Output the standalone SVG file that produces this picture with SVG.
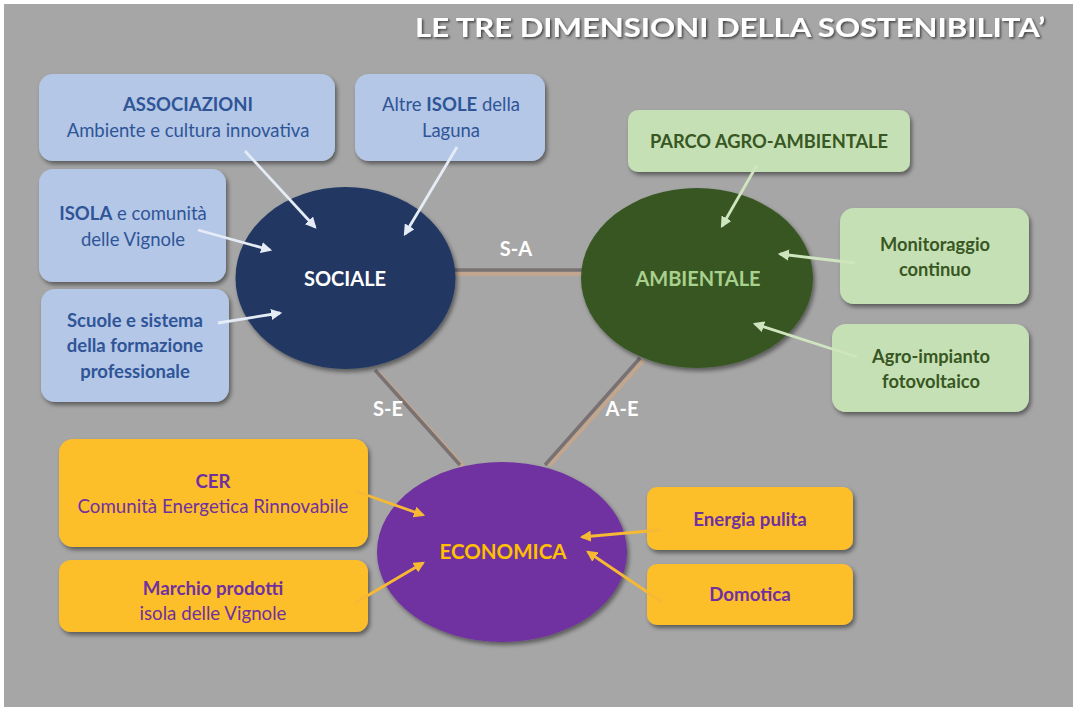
<svg xmlns="http://www.w3.org/2000/svg" width="1079" height="713" viewBox="0 0 1079 713">
<defs>
<filter id="sh" x="-20%" y="-20%" width="140%" height="140%">
<feDropShadow dx="2" dy="3" stdDeviation="2" flood-color="#000" flood-opacity="0.45"/>
</filter>
<filter id="tsh" x="-5%" y="-30%" width="110%" height="160%">
<feDropShadow dx="1.5" dy="1.5" stdDeviation="1" flood-color="#000" flood-opacity="0.6"/>
</filter>
<marker id="aw" viewBox="0 0 10 10" refX="8" refY="5" markerWidth="4" markerHeight="4" orient="auto" markerUnits="strokeWidth">
<path d="M0,0 L10,5 L0,10 z" fill="#e6ecf6"/>
</marker>
<marker id="ag" viewBox="0 0 10 10" refX="8" refY="5" markerWidth="4" markerHeight="4" orient="auto" markerUnits="strokeWidth">
<path d="M0,0 L10,5 L0,10 z" fill="#cfe5c0"/>
</marker>
<marker id="ao" viewBox="0 0 10 10" refX="8" refY="5" markerWidth="4" markerHeight="4" orient="auto" markerUnits="strokeWidth">
<path d="M0,0 L10,5 L0,10 z" fill="#f7b934"/>
</marker>
</defs>
<style>
text{font-family:Lato,"Open Sans","Liberation Sans",sans-serif;text-anchor:middle}
.bb{fill:#b4c7e7}
.gb{fill:#c5e0b4}
.ob{fill:#fcbf2c}
.bt{fill:#2f5597;font-size:18.5px}
.gt{fill:#385723;font-size:18.3px;font-weight:bold}
.ot{fill:#7030a0;font-size:18.7px}
.b{font-weight:bold}
.lbl{fill:#fff;font-size:20px;font-weight:bold}
.sw{stroke:#e6ecf6;stroke-width:2.8;fill:none;marker-end:url(#aw)}
.sg{stroke:#cfe5c0;stroke-width:2.8;fill:none;marker-end:url(#ag)}
.so{stroke:#f7b934;stroke-width:2.8;fill:none;marker-end:url(#ao)}
.lk{stroke:#7a7272;stroke-width:3.5}
.lks{stroke:#c4a68c;stroke-width:3.5}
</style>
<rect x="0" y="0" width="1079" height="713" fill="#ffffff"/>
<rect x="4" y="4" width="1069" height="703" fill="#a6a6a6"/>

<text x="730" y="37" font-size="27" font-weight="bold" fill="#ffffff" filter="url(#tsh)" textLength="630" lengthAdjust="spacingAndGlyphs">LE TRE DIMENSIONI DELLA SOSTENIBILITA’</text>

<g id="links">
<line class="lks" x1="455" y1="274" x2="582" y2="274"/>
<line class="lk" x1="455" y1="270" x2="582" y2="270"/>
<line class="lks" x1="378" y1="372" x2="463" y2="466"/>
<line class="lk" x1="375" y1="370" x2="460" y2="465"/>
<line class="lks" x1="644" y1="360" x2="549" y2="466"/>
<line class="lk" x1="640" y1="358" x2="545" y2="465"/>
</g>
<text class="lbl" x="516" y="256">S-A</text>
<text class="lbl" x="388" y="416">S-E</text>
<text class="lbl" x="622" y="416">A-E</text>

<g id="sociale">
<ellipse cx="345.5" cy="278" rx="110" ry="91" fill="#203864" filter="url(#sh)"/>
<text x="345" y="286" class="lbl">SOCIALE</text>
</g>
<g id="ambientale">
<ellipse cx="697" cy="278" rx="116" ry="90" fill="#385723" filter="url(#sh)"/>
<text x="698" y="286" font-size="20" font-weight="bold" fill="#a9d18e">AMBIENTALE</text>
</g>
<g id="economica">
<ellipse cx="502" cy="552" rx="125" ry="90" fill="#7030a0" filter="url(#sh)"/>
<text x="503" y="559" font-size="20.5" font-weight="bold" fill="#ffc000">ECONOMICA</text>
</g>

<g id="associazioni">
<rect class="bb" x="39" y="74" width="296" height="87" rx="14" filter="url(#sh)"/>
<text class="bt b" x="188" y="111">ASSOCIAZIONI</text>
<text class="bt" x="188" y="137">Ambiente e cultura innovativa</text>
</g>
<g id="altre-isole">
<rect class="bb" x="355" y="74" width="190" height="87" rx="14" filter="url(#sh)"/>
<text class="bt" x="451" y="111">Altre <tspan class="b">ISOLE</tspan> della</text>
<text class="bt" x="451" y="137">Laguna</text>
</g>
<g id="isola">
<rect class="bb" x="39" y="169" width="187" height="113" rx="14" filter="url(#sh)"/>
<text class="bt" x="133" y="220"><tspan class="b">ISOLA</tspan> e comunità</text>
<text class="bt" x="133" y="246">delle Vignole</text>
</g>
<g id="scuole">
<rect class="bb" x="41" y="289" width="188" height="113" rx="14" filter="url(#sh)"/>
<text class="bt b" x="135" y="327">Scuole e sistema</text>
<text class="bt b" x="135" y="352">della formazione</text>
<text class="bt b" x="135" y="378">professionale</text>
</g>

<g id="parco">
<rect class="gb" x="628" y="110" width="282" height="62" rx="10" filter="url(#sh)"/>
<text class="gt" x="769" y="148" font-size="17.8">PARCO AGRO-AMBIENTALE</text>
</g>
<g id="monitoraggio">
<rect class="gb" x="840" y="208" width="189" height="96" rx="14" filter="url(#sh)"/>
<text class="gt" x="935" y="251">Monitoraggio</text>
<text class="gt" x="935" y="276">continuo</text>
</g>
<g id="agro">
<rect class="gb" x="832" y="324" width="197" height="88" rx="14" filter="url(#sh)"/>
<text class="gt" x="931" y="363">Agro-impianto</text>
<text class="gt" x="931" y="388">fotovoltaico</text>
</g>

<g id="cer">
<rect class="ob" x="59" y="439" width="309" height="108" rx="14" filter="url(#sh)"/>
<text class="ot b" x="213" y="488">CER</text>
<text class="ot" x="213" y="513">Comunità Energetica Rinnovabile</text>
</g>
<g id="marchio">
<rect class="ob" x="59" y="560" width="309" height="72" rx="12" filter="url(#sh)"/>
<text class="ot b" x="213" y="595">Marchio prodotti</text>
<text class="ot" x="213" y="620">isola delle Vignole</text>
</g>
<g id="energia">
<rect class="ob" x="647" y="487" width="206" height="63" rx="10" filter="url(#sh)"/>
<text class="ot b" x="750" y="526">Energia pulita</text>
</g>
<g id="domotica">
<rect class="ob" x="647" y="564" width="206" height="61" rx="10" filter="url(#sh)"/>
<text class="ot b" x="750" y="601">Domotica</text>
</g>

<g id="arrows">
<line class="sw" x1="245" y1="151" x2="315" y2="227"/>
<line class="sw" x1="457" y1="147" x2="405" y2="234"/>
<line class="sw" x1="198" y1="230" x2="270" y2="250"/>
<line class="sw" x1="218" y1="323" x2="280" y2="313"/>
<line class="sg" x1="757" y1="165" x2="722" y2="226"/>
<line class="sg" x1="855" y1="263" x2="780" y2="254"/>
<line class="sg" x1="857" y1="357" x2="755" y2="324"/>
<line class="so" x1="355" y1="491" x2="423" y2="515"/>
<line class="so" x1="355" y1="603" x2="423" y2="563"/>
<line class="so" x1="660" y1="530" x2="582" y2="537"/>
<line class="so" x1="662" y1="602" x2="588" y2="552"/>
</g>
</svg>
